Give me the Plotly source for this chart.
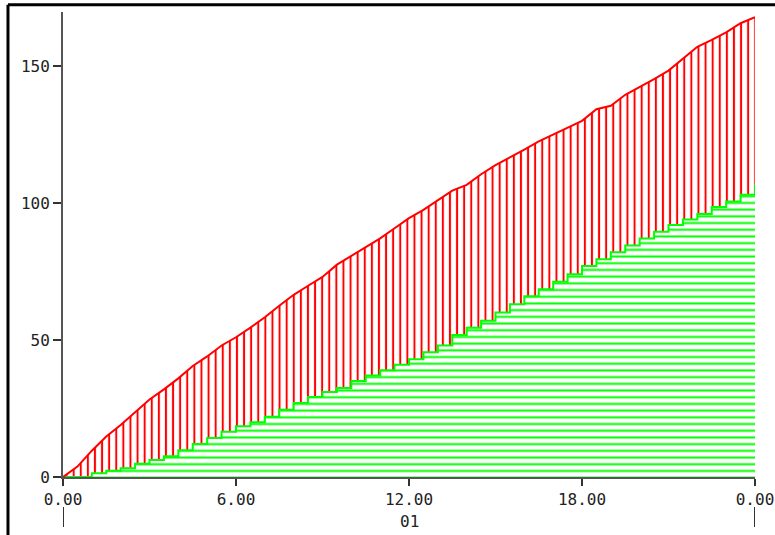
import plotly.graph_objects as go

# ---- data ----
hours = [i * 0.5 for i in range(49)]

red_values = [
    0, 3.8, 9.6, 14.8, 19, 23.5, 28.3, 32, 36, 40.5,
    44, 48, 51, 54.5, 58.3, 62.5, 66.5, 69.8, 73, 77.5,
    80.8, 84, 87.1, 90.8, 94.5, 97.5, 101, 104.5, 106.6, 110.5,
    113.8, 116.5, 119.5, 122.5, 125, 127.5, 130, 134.2, 135.5, 139.5,
    142.2, 145.2, 148.3, 152.5, 157, 159.5, 162.3, 165.6, 167.8,
]

green_values = [
    0, 0, 1.4, 2.3, 3.2, 4.8, 6.2, 7.6, 9.8, 12,
    14.2, 16.5, 18.5, 20, 22, 24.5, 27, 29.2, 31, 32.5,
    35, 37, 39, 41, 43, 45.5, 48, 51.8, 54.5, 57,
    60, 63, 66, 68.5, 71.3, 74, 77, 79.5, 82, 84.5,
    87, 89.5, 92, 94, 96, 98.5, 100.5, 103, 107,
]

x_tick_vals = [0, 6, 12, 18, 24]
x_tick_text = ["0.00", "6.00", "12.00", "18.00", "0.00"]
y_tick_vals = [0, 50, 100, 150]
y_tick_text = ["0", "50", "100", "150"]
day_bounds = [0, 24]
day_labels = ["01"]
day_label_pos = [12]

X_RANGE = [0, 24]
Y_RANGE = [0, 169.7]

FONT = dict(family="DejaVu Sans Mono", size=16, color="#222222")
AXIS_COLOR = "#555555"
TICK_COLOR = "#333333"

fig = go.Figure()

fig.add_trace(go.Scatter(
    x=hours, y=green_values, mode="lines",
    line=dict(color="#00ff00", width=2, shape="hv"),
    fill="tozeroy", fillcolor="rgba(0,0,0,0)",
    fillpattern=dict(shape="-", size=6.7, solidity=0.3,
                     fgcolor="#00ff00", bgcolor="rgba(0,0,0,0)", fgopacity=1),
    showlegend=False, hoverinfo="skip",
))

fig.add_trace(go.Scatter(
    x=hours, y=red_values, mode="lines",
    line=dict(color="#ff0000", width=2),
    fill="tonexty", fillcolor="rgba(0,0,0,0)",
    fillpattern=dict(shape="|", size=7.1, solidity=0.28,
                     fgcolor="#ff0000", bgcolor="rgba(0,0,0,0)", fgopacity=1),
    showlegend=False, hoverinfo="skip",
))

# day boundary marks and day label below the time labels
shapes = []
for b in day_bounds:
    shapes.append(dict(type="line", xref="x", yref="paper", x0=b, x1=b,
                       y0=-0.0645, y1=-0.1075,
                       line=dict(color=TICK_COLOR, width=2)))
# frame (top and left edges)
shapes.append(dict(type="line", xref="paper", yref="paper", x0=-0.0795, x1=1.05,
                   y0=1.0155, y1=1.0155, line=dict(color="black", width=3)))
shapes.append(dict(type="line", xref="paper", yref="paper", x0=-0.0795, x1=-0.0795,
                   y0=1.0155, y1=-0.15, line=dict(color="black", width=3)))

annotations = []
for lab, pos in zip(day_labels, day_label_pos):
    annotations.append(dict(x=pos, y=-0.0957, xref="x", yref="paper", text=lab,
                            showarrow=False, font=FONT, yanchor="middle", xanchor="center"))

fig.update_layout(
    width=775, height=535,
    margin=dict(l=63, r=20, t=12, b=58, autoexpand=False),
    paper_bgcolor="white", plot_bgcolor="white",
    shapes=shapes, annotations=annotations,
    xaxis=dict(range=X_RANGE, showline=True, linecolor=AXIS_COLOR, linewidth=2,
               ticks="outside", ticklen=7, tickwidth=2, tickcolor=TICK_COLOR,
               tickvals=x_tick_vals, ticktext=x_tick_text, tickfont=FONT,
               showgrid=False, zeroline=False, fixedrange=True, automargin=False),
    xaxis2=dict(range=X_RANGE, overlaying="x", anchor="y", side="bottom",
                ticks="inside", ticklen=8, tickwidth=2, tickcolor=TICK_COLOR,
                tickvals=x_tick_vals, showticklabels=False, showline=False,
                showgrid=False, zeroline=False, automargin=False),
    yaxis=dict(range=Y_RANGE, showline=True, linecolor=AXIS_COLOR, linewidth=2,
               ticks="outside", ticklen=8, tickwidth=2, tickcolor=TICK_COLOR,
               tickvals=y_tick_vals, ticktext=y_tick_text, tickfont=FONT,
               showgrid=False, zeroline=False, fixedrange=True, automargin=False),
    yaxis2=dict(range=Y_RANGE, overlaying="y", anchor="x", side="left",
                ticks="inside", ticklen=7, tickwidth=2, tickcolor=TICK_COLOR,
                tickvals=y_tick_vals, showticklabels=False, showline=False,
                showgrid=False, zeroline=False, automargin=False),
)

fig.write_html("out.html", config={"displayModeBar": False},
               post_script="document.body.style.margin='0';")
